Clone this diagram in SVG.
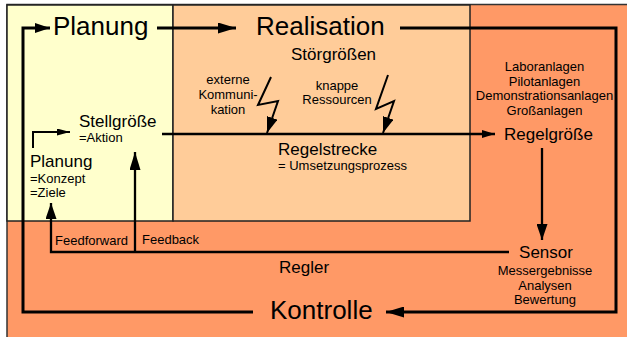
<svg xmlns="http://www.w3.org/2000/svg" width="627" height="337" viewBox="0 0 627 337">
<style>
text{font-family:"Liberation Sans",Arial,sans-serif;fill:#000}
.xl{font-size:26px}
.l{font-size:17px}
.s{font-size:13px}
.xs{font-size:13px}
.mid{text-anchor:middle}
.ln{fill:none;stroke:#000;stroke-linejoin:miter}
.w3{stroke-width:3}
.w2{stroke-width:2.3}
</style>
<defs>
<marker id="big" markerUnits="userSpaceOnUse" markerWidth="18" markerHeight="11" refX="18" refY="5.5" orient="auto"><path d="M0,0 L18,5.5 L0,11 z" fill="#000"/></marker>
<marker id="mb" markerUnits="userSpaceOnUse" markerWidth="15" markerHeight="10" refX="15" refY="5" orient="auto"><path d="M0,0 L15,5 L0,10 z" fill="#000"/></marker>
<marker id="md" markerUnits="userSpaceOnUse" markerWidth="16" markerHeight="11" refX="16" refY="5.5" orient="auto"><path d="M0,0 L16,5.5 L0,11 z" fill="#000"/></marker>
<marker id="sm" markerUnits="userSpaceOnUse" markerWidth="13" markerHeight="8" refX="13" refY="4" orient="auto"><path d="M0,0 L13,4 L0,8 z" fill="#000"/></marker>
<marker id="xs" markerUnits="userSpaceOnUse" markerWidth="13" markerHeight="7" refX="13" refY="3.5" orient="auto"><path d="M0,0 L13,3.5 L0,7 z" fill="#000"/></marker>
</defs>
<rect x="0" y="0" width="627" height="337" fill="#fff"/>
<g id="regler-area"><rect x="7" y="4.5" width="622" height="336" fill="#FF9966" stroke="#333" stroke-width="1.5"/></g>
<g id="planung-area"><rect x="7" y="5" width="166" height="216" fill="#FFFFCC" stroke="#222" stroke-width="1.5"/></g>
<g id="realisation-area"><rect x="173" y="5" width="297" height="216" fill="#FFCC99" stroke="#222" stroke-width="1.5"/></g>

<g id="connectors">
<path class="ln w3" d="M253,312 H23 V28 H50" marker-end="url(#mb)"/>
<path class="ln w3" d="M157,28 H236" marker-end="url(#big)"/>
<path class="ln w3" d="M400,28 H616 V312 H386" marker-end="url(#big)"/>
<path class="ln w2" d="M162,134 H495" marker-end="url(#sm)"/>
<path class="ln" stroke-width="2" d="M271,77 L258,105 L278,101 L267,133" marker-end="url(#md)"/>
<path class="ln" stroke-width="2" d="M388,75 L376,109 L394,101 L383,133" marker-end="url(#md)"/>
<path class="ln w2" d="M542,148 V240" marker-end="url(#md)"/>
<path class="ln w2" d="M509,252 H51 V203" marker-end="url(#md)"/>
<path class="ln w2" d="M135,252 V152" marker-end="url(#big)"/>
<path class="ln" stroke-width="2" d="M33,148 V132 H70" marker-end="url(#xs)"/>
</g>

<g id="planung"><text class="xl" x="53" y="35">Planung</text></g>
<g id="realisation"><text class="xl" x="256" y="35">Realisation</text></g>
<g id="kontrolle"><text class="xl" x="270" y="319">Kontrolle</text></g>
<g id="stoergroessen"><text class="l" x="291" y="60">Störgrößen</text></g>
<g id="externe"><text class="s mid" x="228" y="84">externe</text><text class="s mid" x="228" y="99">Kommuni-</text><text class="s mid" x="228" y="114">kation</text></g>
<g id="knappe"><text class="s mid" x="337" y="90">knappe</text><text class="s mid" x="337" y="104">Ressourcen</text></g>
<g id="stellgroesse"><text class="l" x="79" y="126.5">Stellgröße</text><text class="xs" x="79" y="142">=Aktion</text></g>
<g id="planung-small"><text class="l" x="30" y="167">Planung</text><text class="xs" x="30" y="183">=Konzept</text><text class="xs" x="30" y="197">=Ziele</text></g>
<g id="regelstrecke"><text class="l" x="278" y="154.5">Regelstrecke</text><text class="xs" x="278" y="170">= Umsetzungsprozess</text></g>
<g id="anlagen"><text class="s mid" x="544.5" y="71">Laboranlagen</text><text class="s mid" x="544.5" y="85.5">Pilotanlagen</text><text class="s mid" x="544.5" y="100">Demonstrationsanlagen</text><text class="s mid" x="544.5" y="114.5">Großanlagen</text></g>
<g id="regelgroesse"><text class="l mid" x="548.5" y="139.5">Regelgröße</text></g>
<g id="sensor"><text class="l mid" x="546" y="258">Sensor</text><text class="s mid" x="545" y="275">Messergebnisse</text><text class="s mid" x="545" y="290">Analysen</text><text class="s mid" x="545" y="304">Bewertung</text></g>
<g id="regler"><text class="l" x="279" y="273">Regler</text></g>
<g id="feed"><text class="s" x="55" y="245">Feedforward</text><text class="s" x="142" y="244">Feedback</text></g>
</svg>
